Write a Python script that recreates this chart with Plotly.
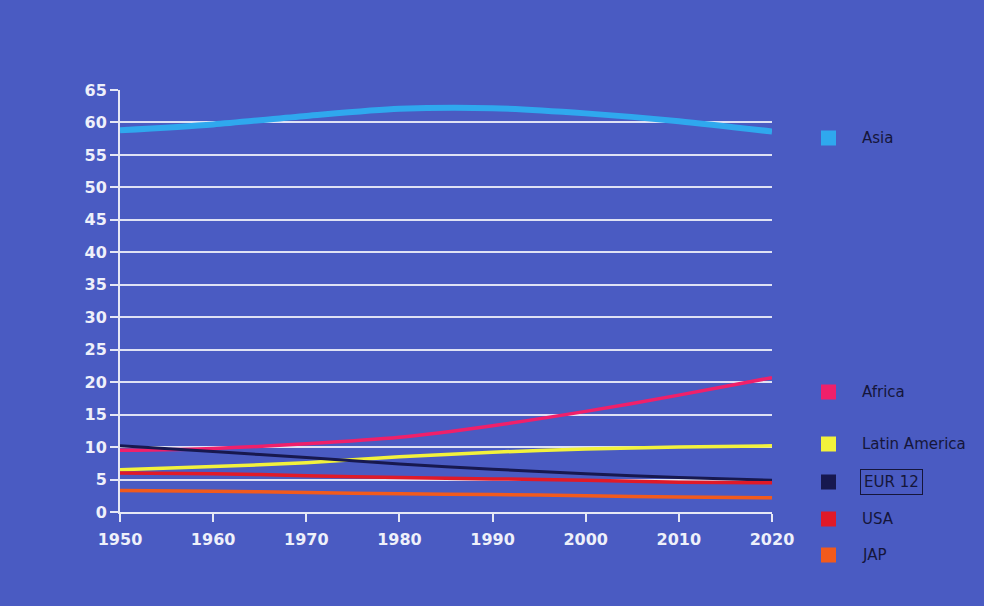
import plotly.graph_objects as go

years = [1950, 1960, 1970, 1980, 1990, 2000, 2010, 2020]
asia = [58.8, 59.7, 61.0, 62.1, 62.2, 61.4, 60.2, 58.6]
africa = [9.5, 9.8, 10.5, 11.5, 13.3, 15.5, 18.0, 20.7]
latin_america = [6.5, 7.0, 7.6, 8.5, 9.2, 9.7, 10.0, 10.2]
eur12 = [10.2, 9.3, 8.4, 7.4, 6.6, 5.9, 5.3, 4.9]
usa = [6.0, 5.9, 5.6, 5.3, 5.1, 4.9, 4.6, 4.5]
jap = [3.3, 3.2, 3.0, 2.8, 2.7, 2.5, 2.3, 2.2]

series = [
    ("Asia", asia, "#2fa8ee", 6),
    ("Africa", africa, "#f0206a", 3.5),
    ("Latin America", latin_america, "#f2f23c", 3.5),
    ("EUR 12", eur12, "#17184f", 3),
    ("USA", usa, "#e01a28", 3.5),
    ("JAP", jap, "#f25a1c", 3.5),
]
legend_y = [138, 392, 444, 482, 519, 555]  # pixel rows of legend entries

bg = "#4a5bc2"
W, H = 984, 606
ml, mr, mt, mb = 120, 212, 90, 94
pw = W - ml - mr
ph = H - mt - mb

fig = go.Figure()
for name, vals, col, w in series:
    fig.add_trace(go.Scatter(x=years, y=vals, mode="lines", name=name,
                             line=dict(color=col, width=w, shape="spline", smoothing=0.8),
                             showlegend=False, hoverinfo="skip"))

shapes = []
annotations = []
for (name, vals, col, w), py in zip(series, legend_y):
    x0 = (821 - ml) / pw
    x1 = (836 - ml) / pw
    y0 = (H - mb - (py + 7.5)) / ph
    y1 = (H - mb - (py - 7.5)) / ph
    shapes.append(dict(type="rect", xref="paper", yref="paper", x0=x0, x1=x1, y0=y0, y1=y1,
                       fillcolor=col, line=dict(width=0)))
    ann = dict(xref="paper", yref="paper", x=(860 - ml) / pw, y=(H - mb - py) / ph,
               text=name, showarrow=False, xanchor="left", yanchor="middle",
               font=dict(family="DejaVu Sans", size=15, color="#15163a"))
    if name == "EUR 12":
        ann.update(bordercolor="#15163a", borderwidth=1, borderpad=3)
    annotations.append(ann)

tickfont = dict(family="DejaVu Sans", size=16, color="#eef0fa", weight="bold")

fig.update_layout(
    width=W, height=H,
    margin=dict(l=ml, r=mr, t=mt, b=mb),
    paper_bgcolor=bg, plot_bgcolor=bg,
    shapes=shapes, annotations=annotations,
    xaxis=dict(range=[1950, 2020], tickmode="array", tickvals=years,
               showgrid=False, zeroline=False, showline=True, linecolor="#e6e8f5", linewidth=2,
               ticks="outside", ticklen=8, tickcolor="#e6e8f5", tickwidth=2,
               ticklabelstandoff=4,
               tickfont=tickfont, fixedrange=True),
    yaxis=dict(range=[0, 65], tickmode="linear", tick0=0, dtick=5,
               showgrid=True, gridcolor="#dfe2f4", gridwidth=2, zeroline=False,
               showline=True, linecolor="#e6e8f5", linewidth=2,
               ticks="outside", ticklen=8, tickcolor="#e6e8f5", tickwidth=2,
               tickfont=tickfont, fixedrange=True),
)

fig.write_html("out.html", config={"displayModeBar": False, "staticPlot": True},
               post_script="document.body.style.margin='0';document.body.style.overflow='hidden';")
